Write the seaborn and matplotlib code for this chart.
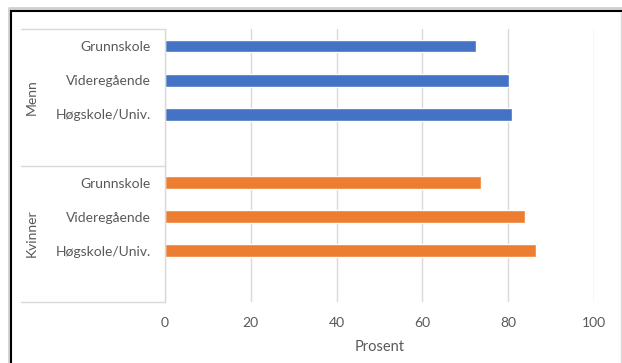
import matplotlib
matplotlib.use("Agg")
import matplotlib.pyplot as plt
import matplotlib.transforms as mtransforms
from matplotlib.lines import Line2D
import pandas as pd
import seaborn as sns

# Data
grupper = ["Menn", "Kvinner"]
nivaaer = ["Grunnskole", "Videregående", "Høgskole/Univ."]
menn = [72.5, 80.1, 81.0]
kvinner = [73.6, 83.8, 86.5]
xticks = [0, 20, 40, 60, 80, 100]
farger = {"Menn": "#4472C4", "Kvinner": "#ED7D31"}

rows = []
for gruppe, verdier in zip(grupper, [menn, kvinner]):
    for nivaa, v in zip(nivaaer, verdier):
        rows.append({"gruppe": gruppe, "nivå": nivaa,
                     "key": f"{gruppe}|{nivaa}", "prosent": v})
df = pd.DataFrame(rows)

# Category order with an empty slot after each group
order = []
for gruppe in grupper:
    order += [f"{gruppe}|{n}" for n in nivaaer]
    order.append(f"{gruppe}|_tom")

sns.set_theme(style="white")
plt.rcParams["font.family"] = ["Lato", "DejaVu Sans"]
tekst = "#595959"
linje = "#D9D9D9"

W, H = 622, 363
fig = plt.figure(figsize=(W / 100, H / 100), dpi=100)
left, right = 165 / W, 594 / W
bottom, top = 1 - 301.7 / H, 1 - 29.3 / H
ax = fig.add_axes([left, bottom, right - left, top - bottom])

sns.barplot(data=df, y="key", x="prosent", hue="gruppe", order=order,
            palette=farger, dodge=False, width=0.36, legend=False,
            saturation=1, ax=ax)

ax.set_xlim(0, 100)
ax.set_ylim(7.5, -0.5)
ax.set_xticks(xticks)
ax.set_xticklabels([str(t) for t in xticks])
ax.set_yticks(range(len(order)))
ax.set_yticklabels([k.split("|")[1] if not k.endswith("_tom") else "" for k in order])
ax.tick_params(axis="both", length=0, labelsize=10, labelcolor=tekst)
ax.tick_params(axis="y", pad=10)
ax.tick_params(axis="x", pad=11)
ax.set_ylabel("")
ax.set_xlabel("Prosent", color=tekst, fontsize=10.5, labelpad=8)

ax.grid(axis="x", color=linje, linewidth=1)
ax.grid(axis="y", visible=False)
ax.set_axisbelow(True)
for side in ["top", "right", "bottom"]:
    ax.spines[side].set_visible(False)
ax.spines["left"].set_color(linje)
ax.spines["left"].set_linewidth(1)

# Group separators and group labels on the category axis
trans = mtransforms.blended_transform_factory(ax.transAxes, ax.transData)
x0 = (21 - 165) / (594 - 165)
for y in [-0.5, 3.5, 7.5]:
    ax.add_line(Line2D([x0, 0], [y, y], transform=trans, color=linje,
                       linewidth=1, clip_on=False))
xg = (32 - 165) / (594 - 165)
for gruppe, yc in zip(grupper, [1.5, 5.5]):
    ax.text(xg, yc, gruppe, transform=trans, rotation=90, ha="center",
            va="center", color=tekst, fontsize=10, clip_on=False)

# Outer frame
def px_line(xs, ys, color, lw):
    fig.add_artist(Line2D([x / W for x in xs], [1 - y / H for y in ys],
                          transform=fig.transFigure, color=color,
                          linewidth=lw, solid_capstyle="butt"))

px_line([8.5, 8.5], [8, H], "#D0D0D0", 2)
px_line([8, W], [8, 8], "#D0D0D0", 2)
px_line([11, 11], [10, H], "black", 1.5)
px_line([10, W], [10.5, 10.5], "black", 1.5)
px_line([621, 621], [12, H], "#D9D9D9", 1)

fig.savefig("out.png", dpi=100)
